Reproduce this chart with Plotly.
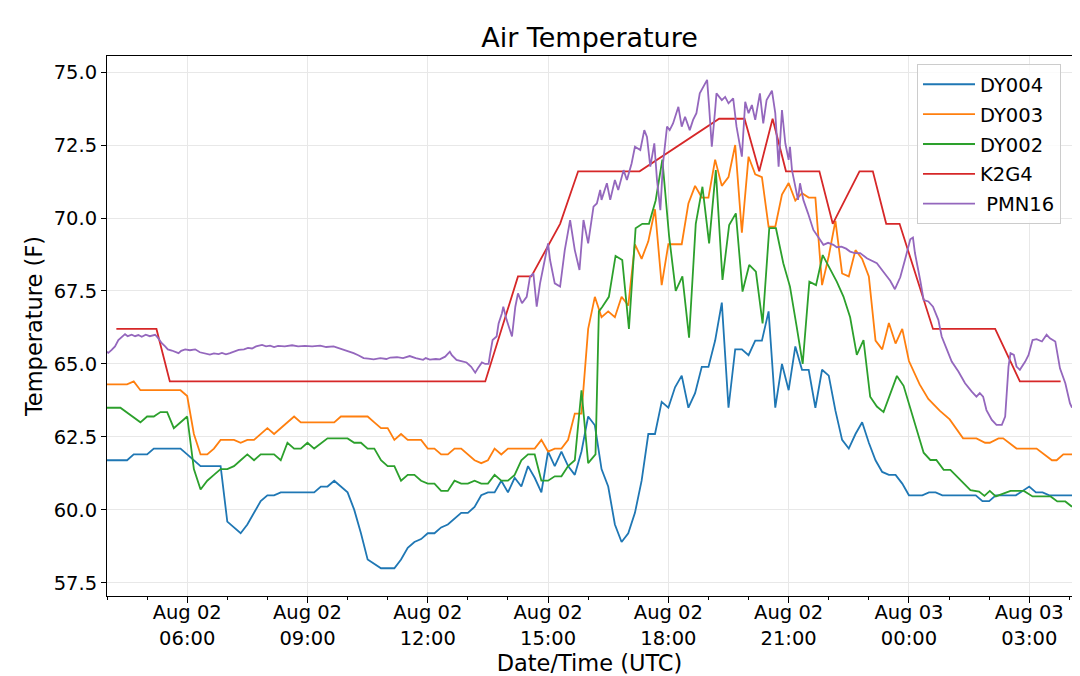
import pandas as pd
import plotly.graph_objects as go

# time of each reading = minutes after 2019-08-02 00:00 UTC
dy004_min = [240, 270, 280, 300, 310, 350, 360, 380, 410, 420, 440, 450, 460, 470, 480, 490, 500, 550, 560, 570,
             580, 590, 600, 610, 620, 630, 650, 670, 680, 690, 700, 710, 720, 730, 740, 750, 760, 770, 780, 790,
             800, 810, 820, 830, 840, 850, 860, 870, 880, 890, 900, 910, 920, 930, 940, 950, 960, 970, 980, 990,
             1000, 1010, 1020, 1030, 1040, 1050, 1060, 1070, 1080, 1090, 1100, 1110, 1120, 1130, 1140, 1150, 1160, 1170, 1180, 1190,
             1200, 1210, 1220, 1230, 1240, 1250, 1260, 1270, 1280, 1290, 1300, 1310, 1320, 1330, 1340, 1350, 1360, 1370, 1380, 1390,
             1400, 1410, 1420, 1430, 1440, 1460, 1470, 1480, 1490, 1540, 1550, 1560, 1570, 1600, 1620, 1630, 1640, 1650, 1684]
dy004_val = [61.7, 61.7, 61.9, 61.9, 62.1, 62.1, 61.9, 61.5, 61.5, 59.6, 59.2, 59.5, 59.9, 60.3, 60.5, 60.5, 60.6, 60.6, 60.8, 60.8,
             61.0, 60.8, 60.6, 60.0, 59.2, 58.3, 58.0, 58.0, 58.3, 58.7, 58.9, 59.0, 59.2, 59.2, 59.4, 59.5, 59.7, 59.9, 59.9, 60.1,
             60.5, 60.6, 60.6, 61.0, 60.6, 61.1, 60.8, 61.5, 61.1, 60.6, 62.0, 61.5, 62.0, 61.5, 61.2, 62.0, 63.2, 62.9, 61.4, 60.8,
             59.5, 58.9, 59.2, 59.9, 61.0, 62.6, 62.6, 63.7, 63.5, 64.2, 64.6, 63.5, 64.0, 64.9, 64.9, 65.8, 67.1, 63.5, 65.5, 65.5,
             65.3, 65.8, 65.8, 66.8, 63.5, 65.0, 64.1, 65.6, 64.8, 64.8, 63.5, 64.8, 64.6, 63.4, 62.4, 62.1, 62.6, 63.0, 62.3, 61.7,
             61.3, 61.2, 61.2, 60.9, 60.5, 60.5, 60.6, 60.6, 60.5, 60.5, 60.3, 60.3, 60.5, 60.5, 60.8, 60.6, 60.6, 60.5, 60.5]

dy003_min = [240, 270, 280, 290, 350, 360, 370, 380, 390, 400, 410, 430, 440, 450, 460, 470, 480, 490, 500, 510,
             520, 530, 580, 590, 630, 640, 650, 660, 670, 680, 690, 710, 720, 730, 740, 750, 760, 770, 780, 790,
             800, 810, 820, 830, 840, 880, 890, 900, 910, 920, 930, 940, 950, 960, 970, 980, 990, 1000, 1010, 1020,
             1030, 1040, 1050, 1060, 1070, 1080, 1090, 1100, 1110, 1120, 1130, 1140, 1150, 1160, 1170, 1180, 1190, 1200, 1210, 1220,
             1230, 1240, 1250, 1260, 1270, 1280, 1290, 1300, 1310, 1320, 1330, 1340, 1350, 1360, 1370, 1380, 1390, 1400, 1410, 1420,
             1430, 1440, 1456, 1469, 1486, 1501, 1521, 1541, 1554, 1561, 1574, 1581, 1601, 1631, 1654, 1661, 1671, 1684]
dy003_val = [64.3, 64.3, 64.4, 64.1, 64.1, 63.9, 62.6, 61.9, 61.9, 62.1, 62.4, 62.4, 62.3, 62.4, 62.4, 62.6, 62.8, 62.6, 62.8, 63.0,
             63.2, 63.0, 63.0, 63.2, 63.2, 63.0, 62.8, 62.8, 62.4, 62.6, 62.4, 62.4, 62.1, 62.1, 61.9, 61.9, 62.1, 62.1, 61.9, 61.7,
             61.6, 61.7, 62.1, 61.9, 62.1, 62.1, 62.4, 62.0, 62.1, 62.1, 62.4, 63.3, 63.3, 66.2, 67.3, 66.6, 66.8, 66.6, 67.3, 67.0,
             69.1, 68.6, 69.2, 70.3, 67.7, 69.1, 69.1, 69.1, 70.5, 71.1, 70.7, 70.7, 72.0, 71.1, 71.4, 72.5, 69.5, 72.1, 71.5, 71.4,
             69.7, 69.7, 70.8, 71.2, 70.6, 70.85, 70.7, 70.7, 67.7, 68.7, 69.9, 68.1, 68.0, 68.9, 68.6, 68.0, 65.8, 65.5, 66.4, 65.7,
             66.2, 65.1, 64.3, 63.8, 63.4, 63.1, 62.45, 62.45, 62.3, 62.3, 62.45, 62.45, 62.1, 62.1, 61.7, 61.7, 61.9, 61.9]

dy002_min = [240, 260, 290, 300, 310, 320, 330, 340, 360, 370, 380, 390, 400, 410, 420, 430, 440, 450, 460, 470,
             490, 500, 510, 520, 530, 540, 550, 570, 600, 610, 620, 630, 640, 650, 660, 670, 680, 690, 700, 710,
             720, 730, 740, 750, 760, 770, 780, 790, 800, 810, 820, 830, 840, 850, 860, 870, 880, 890, 900, 910,
             920, 930, 940, 950, 960, 971, 976, 981, 991, 1001, 1011, 1021, 1031, 1041, 1051, 1061, 1071, 1081, 1091, 1101,
             1111, 1121, 1131, 1141, 1151, 1161, 1171, 1181, 1191, 1201, 1211, 1221, 1231, 1241, 1252, 1262, 1272, 1281, 1291, 1301,
             1311, 1322, 1332, 1342, 1352, 1362, 1372, 1382, 1392, 1402, 1412, 1422, 1432, 1444, 1462, 1472, 1481, 1492, 1502, 1512,
             1532, 1545, 1553, 1561, 1570, 1592, 1612, 1625, 1652, 1662, 1674, 1684]
dy002_val = [63.5, 63.5, 63.0, 63.2, 63.2, 63.35, 63.35, 62.8, 63.2, 61.4, 60.7, 61.0, 61.2, 61.4, 61.4, 61.5, 61.7, 61.9, 61.7, 61.9,
             61.9, 61.7, 62.3, 62.1, 62.1, 62.3, 62.1, 62.45, 62.45, 62.3, 62.3, 62.1, 62.1, 61.7, 61.5, 61.5, 61.0, 61.2, 61.2, 61.0,
             60.9, 60.9, 60.65, 60.65, 61.0, 60.9, 60.9, 61.0, 60.9, 60.9, 61.2, 61.0, 61.0, 61.2, 61.7, 61.9, 61.9, 61.0, 61.0, 61.15,
             61.15, 61.5, 61.7, 64.1, 61.6, 61.9, 66.8, 66.95, 67.3, 68.7, 68.56, 66.2, 69.65, 69.8, 69.8, 70.6, 72.0, 69.4, 67.5, 68.0,
             65.9, 69.8, 71.07, 69.13, 71.64, 67.88, 69.76, 70.16, 67.48, 68.39, 68.16, 66.39, 69.65, 69.65, 68.45, 67.65, 66.28, 65.0, 67.82, 67.7,
             68.73, 68.28, 67.82, 67.31, 66.6, 65.31, 65.82, 63.88, 63.54, 63.35, 64.0, 64.59, 64.25, 63.31, 61.96, 61.71, 61.71, 61.37, 61.37, 61.14,
             60.68, 60.63, 60.48, 60.65, 60.46, 60.65, 60.65, 60.46, 60.46, 60.29, 60.29, 60.11]

k2g4_min = [254, 314, 334, 806, 855, 875, 918, 945, 1037, 1156, 1194, 1216, 1236, 1256, 1306, 1326, 1366, 1386, 1406, 1426,
            1476, 1569, 1606, 1667]
k2g4_val = [66.2, 66.2, 64.4, 64.4, 68.0, 68.0, 69.8, 71.6, 71.6, 73.4, 73.4, 71.6, 73.4, 71.6, 71.6, 69.8, 71.6, 71.6, 69.8, 69.8,
            66.2, 66.2, 64.4, 64.4]

pmn16_min = [240, 242, 247, 252, 257, 261, 267, 271, 277, 282,
             287, 292, 298, 304, 312, 316, 322, 327, 331, 337,
             342, 347, 351, 357, 364, 372, 379, 387, 394, 400,
             407, 412, 418, 424, 430, 437, 445, 451, 457, 463,
             472, 478, 484, 490, 496, 506, 517, 526, 536, 547,
             559, 568, 579, 586, 594, 601, 609, 616, 624, 631,
             639, 649, 658, 664, 674, 683, 693, 702, 708, 713,
             717, 723, 732, 738, 746, 750, 753, 756, 763, 770,
             778, 785, 791, 795, 801, 806, 811, 813, 817, 823,
             826, 831, 833, 838, 846, 851, 855, 861, 868, 873,
             878, 883, 888, 893, 900, 903, 910, 918, 925, 933,
             940, 947, 953, 960, 968, 973, 978, 980, 988, 993,
             1000, 1005, 1013, 1018, 1025, 1030, 1038, 1044, 1048, 1053,
             1059, 1063, 1068, 1072, 1078, 1082, 1087, 1095, 1100, 1105,
             1112, 1117, 1122, 1127, 1132, 1138, 1141, 1145, 1150, 1152,
             1160, 1165, 1170, 1177, 1182, 1190, 1195, 1200, 1205, 1210,
             1217, 1222, 1227, 1235, 1240, 1245, 1250, 1255, 1260, 1262,
             1265, 1270, 1274, 1277, 1282, 1289, 1297, 1304, 1312, 1319,
             1327, 1332, 1339, 1346, 1352, 1359, 1367, 1377, 1383, 1392,
             1402, 1412, 1419, 1427, 1434, 1442, 1446, 1449, 1457, 1462,
             1469, 1476, 1484, 1489, 1497, 1504, 1514, 1524, 1534, 1541,
             1546, 1551, 1556, 1564, 1571, 1579, 1584, 1589, 1592, 1597,
             1601, 1606, 1614, 1619, 1625, 1631, 1639, 1646, 1651, 1659,
             1666, 1674, 1681, 1684]
pmn16_val = [65.42, 65.38, 65.48, 65.6, 65.82, 65.9, 66.02, 65.95, 66.0, 65.95,
             65.99, 65.93, 66.0, 65.95, 66.0, 65.9, 65.71, 65.6, 65.5, 65.46,
             65.42, 65.37, 65.45, 65.5, 65.47, 65.5, 65.4, 65.37, 65.32, 65.36,
             65.34, 65.38, 65.33, 65.37, 65.42, 65.48, 65.5, 65.55, 65.53, 65.6,
             65.65, 65.6, 65.63, 65.58, 65.62, 65.6, 65.64, 65.6, 65.62, 65.6,
             65.63, 65.58, 65.6, 65.55, 65.48, 65.42, 65.37, 65.3, 65.2, 65.18,
             65.16, 65.2, 65.17, 65.22, 65.23, 65.2, 65.27, 65.2, 65.18, 65.14,
             65.2, 65.15, 65.17, 65.16, 65.25, 65.35, 65.42, 65.3, 65.14, 65.1,
             65.05, 64.9, 64.7, 64.85, 65.05, 65.0, 65.0, 65.3, 65.82, 65.94,
             66.39, 66.74, 66.96, 66.51, 65.94, 66.96, 67.42, 67.08, 67.3, 67.99,
             68.1, 66.96, 67.76, 68.33, 69.13, 68.56, 67.76, 67.65, 68.9, 69.93,
             68.9, 68.22, 69.93, 69.13, 70.39, 70.5, 70.96, 70.62, 71.19, 70.62,
             71.3, 70.96, 71.64, 71.3, 71.87, 72.44, 72.33, 73.01, 72.78, 71.76,
             72.56, 71.3, 70.27, 71.87, 73.13, 73.01, 73.24, 73.81, 73.13, 73.47,
             73.01, 73.36, 73.59, 74.27, 74.5, 74.73, 73.81, 72.44, 73.7, 74.27,
             74.04, 74.15, 73.93, 74.1, 73.13, 72.1, 73.98, 73.59, 73.87, 73.36,
             74.27, 73.24, 74.04, 74.36, 73.59, 71.76, 73.7, 72.56, 71.99, 72.44,
             71.64, 71.07, 70.62, 71.19, 70.62, 70.16, 69.59, 69.36, 69.08, 69.15,
             69.08, 69.0, 69.02, 68.95, 68.85, 68.8, 68.8, 68.62, 68.55, 68.45,
             68.15, 67.85, 67.56, 67.97, 68.56, 69.27, 69.33, 68.8, 67.85, 67.19,
             67.14, 66.96, 66.51, 65.94, 65.48, 65.08, 64.74, 64.34, 64.05, 63.88,
             64.0, 63.88, 63.42, 63.08, 62.91, 62.91, 63.2, 64.91, 65.37, 65.31,
             64.91, 64.8, 65.08, 65.31, 65.82, 65.85, 65.77, 66.0, 65.88, 65.77,
             64.85, 64.34, 63.65, 63.5]

names = ["DY004", "DY003", "DY002", "K2G4", "\u00a0PMN16"]
colors = ["#1f77b4", "#ff7f0e", "#2ca02c", "#d62728", "#9467bd"]

base = pd.Timestamp("2019-08-02 00:00")


def to_time(mins):
    return base + pd.to_timedelta(mins, unit="m")


series = [(dy004_min, dy004_val), (dy003_min, dy003_val), (dy002_min, dy002_val),
          (k2g4_min, k2g4_val), (pmn16_min, pmn16_val)]

fig = go.Figure()
for i, (mins, vals) in enumerate(series):
    fig.add_trace(go.Scatter(
        x=to_time(mins), y=vals,
        mode="lines",
        name=names[i],
        legendgroup=names[i],
        line=dict(color=colors[i], width=1.8),
    ))

# major ticks every 3h, minor every hour
major = pd.date_range("2019-08-02 06:00", "2019-08-03 03:00", freq="3h")
minor = pd.date_range("2019-08-02 04:00", "2019-08-03 04:00", freq="1h")

font = "DejaVu Sans, Liberation Sans, sans-serif"

# page body adds 8px on top/left, so the figure is 8px smaller than the window
W, H = 1072, 668
fig.update_layout(
    width=W, height=H,
    margin=dict(l=99, r=8, t=48, b=80),
    paper_bgcolor="white", plot_bgcolor="white",
    font=dict(family=font, size=19.5, color="black"),
    title=dict(text="Air Temperature", x=0.5, xref="paper", xanchor="center",
               y=1 - 30 / H, yref="container", yanchor="middle",
               font=dict(size=27, color="black")),
    showlegend=True,
    legend=dict(x=0.9886, y=0.985, xanchor="right", yanchor="top",
                bgcolor="rgba(255,255,255,0.8)", bordercolor="#cccccc", borderwidth=1,
                font=dict(size=19.5), itemwidth=52, tracegroupgap=1.5),
)

fig.update_xaxes(
    range=[to_time(240), to_time(1684)],
    automargin=False,
    tickmode="array", tickvals=major,
    ticktext=[t.strftime("%b %d<br>%H:%M") for t in major],
    ticks="outside", ticklen=6, tickwidth=1, tickcolor="black",
    ticklabelstandoff=-7,
    minor=dict(tickmode="array", tickvals=minor, ticks="outside", ticklen=3,
               tickcolor="black", showgrid=False),
    showgrid=True, gridcolor="#e8e8e8", gridwidth=1,
    showline=True, linecolor="black", linewidth=1, mirror=True,
    zeroline=False,
    title=dict(text="Date/Time (UTC)", font=dict(size=22.5), standoff=10),
)
fig.update_yaxes(
    range=[57.05, 75.55],
    automargin=False,
    tickmode="linear", tick0=57.5, dtick=2.5, tickformat=".1f",
    ticks="outside", ticklen=5, tickwidth=1, tickcolor="black",
    showgrid=True, gridcolor="#e8e8e8", gridwidth=1,
    showline=True, linecolor="black", linewidth=1, mirror=True,
    zeroline=False,
    title=dict(text="Temperature (F)", font=dict(size=22.5), standoff=4),
)

fig.write_html("out.html")
